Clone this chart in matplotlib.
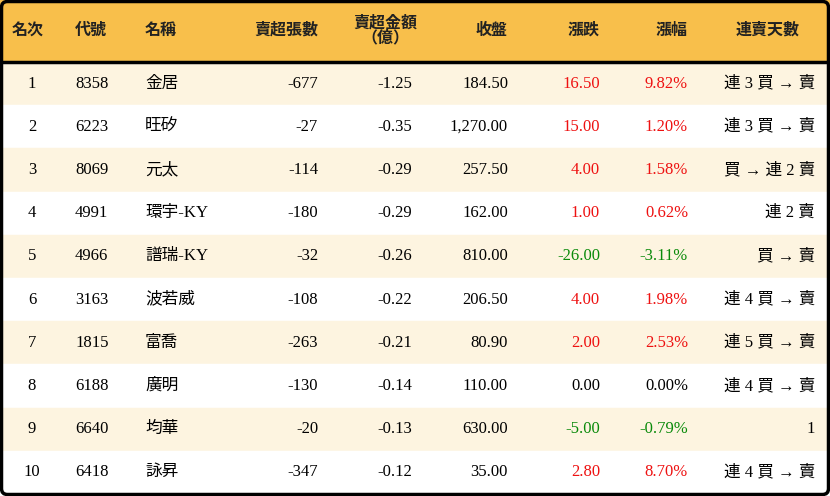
import matplotlib
matplotlib.use("Agg")
import matplotlib.pyplot as plt
from matplotlib.patches import Rectangle, FancyBboxPatch

plt.rcParams["font.family"] = ["Liberation Serif", "Noto Sans CJK TC", "Noto Sans CJK JP",
                               "Noto Sans CJK SC", "Noto Sans CJK KR"]

headers = ["名次", "代號", "名稱", "賣超張數", "賣超金額\n（億）", "收盤", "漲跌", "漲幅", "連賣天數"]
ranks = [1, 2, 3, 4, 5, 6, 7, 8, 9, 10]
codes = ["8358", "6223", "8069", "4991", "4966", "3163", "1815", "6188", "6640", "6418"]
names = ["金居", "旺矽", "元太", "環宇-KY", "譜瑞-KY", "波若威", "富喬", "廣明", "均華", "詠昇"]
shares = ["-677", "-27", "-114", "-180", "-32", "-108", "-263", "-130", "-20", "-347"]
amounts = ["-1.25", "-0.35", "-0.29", "-0.29", "-0.26", "-0.22", "-0.21", "-0.14", "-0.13", "-0.12"]
closes = ["184.50", "1,270.00", "257.50", "162.00", "810.00", "206.50", "80.90", "110.00", "630.00", "35.00"]
changes = [16.50, 15.00, 4.00, 1.00, -26.00, 4.00, 2.00, 0.00, -5.00, 2.80]
pcts = [9.82, 1.20, 1.58, 0.62, -3.11, 1.98, 2.53, 0.00, -0.79, 8.70]
streaks = ["連 3 買 → 賣", "連 3 買 → 賣", "買 → 連 2 賣", "連 2 賣", "買 → 賣",
           "連 4 買 → 賣", "連 5 買 → 賣", "連 4 買 → 賣", "1", "連 4 買 → 賣"]

W, H = 830, 496
fig = plt.figure(figsize=(W / 100, H / 100), dpi=100)
ax = fig.add_axes([0, 0, 1, 1])
ax.set_xlim(0, W)
ax.set_ylim(H, 0)
ax.axis("off")

header_h = 62
row_h = 43.2
ax.add_patch(Rectangle((0, 0), W, header_h, color="#F8BF4B", zorder=0))
for i in range(len(ranks)):
    y0 = header_h + i * row_h
    c = "#FDF4E0" if i % 2 == 0 else "white"
    ax.add_patch(Rectangle((0, y0), W, row_h, color=c, zorder=0))
ax.plot([0, W], [header_h, header_h], color="black", lw=2.5, zorder=2)
ax.add_patch(FancyBboxPatch((1.5, 1.5), W - 3, H - 3, boxstyle="round,pad=0,rounding_size=6",
                            fill=False, ec="black", lw=2.5, zorder=3))

# (x, ha) for header and body
hdr_pos = [(12, "left"), (75, "left"), (145, "left"), (318, "right"), (385, "center"),
           (508, "right"), (600, "right"), (688, "right"), (768, "center")]
body_pos = [(32, "center"), (75, "left"), (145, "left"), (318, "right"), (412, "right"),
            (508, "right"), (600, "right"), (688, "right"), (815, "right")]

for (x, ha), h in zip(hdr_pos, headers):
    ax.text(x, 31, h, ha=ha, va="center", fontsize=11.5, fontweight="bold",
            linespacing=0.95, color="#222222")


def col(v):
    return "#EE1111" if v > 0 else ("#0A8A0A" if v < 0 else "black")


for i in range(len(ranks)):
    y = header_h + (i + 0.5) * row_h
    vals = [str(ranks[i]), codes[i], names[i], shares[i], amounts[i], closes[i],
            f"{changes[i]:.2f}", f"{pcts[i]:.2f}%", streaks[i]]
    colors = ["black"] * 6 + [col(changes[i]), col(pcts[i]), "black"]
    for (x, ha), v, c in zip(body_pos, vals, colors):
        ax.text(x, y, v, ha=ha, va="center", fontsize=12, color=c)

fig.savefig("out.png", dpi=100)
